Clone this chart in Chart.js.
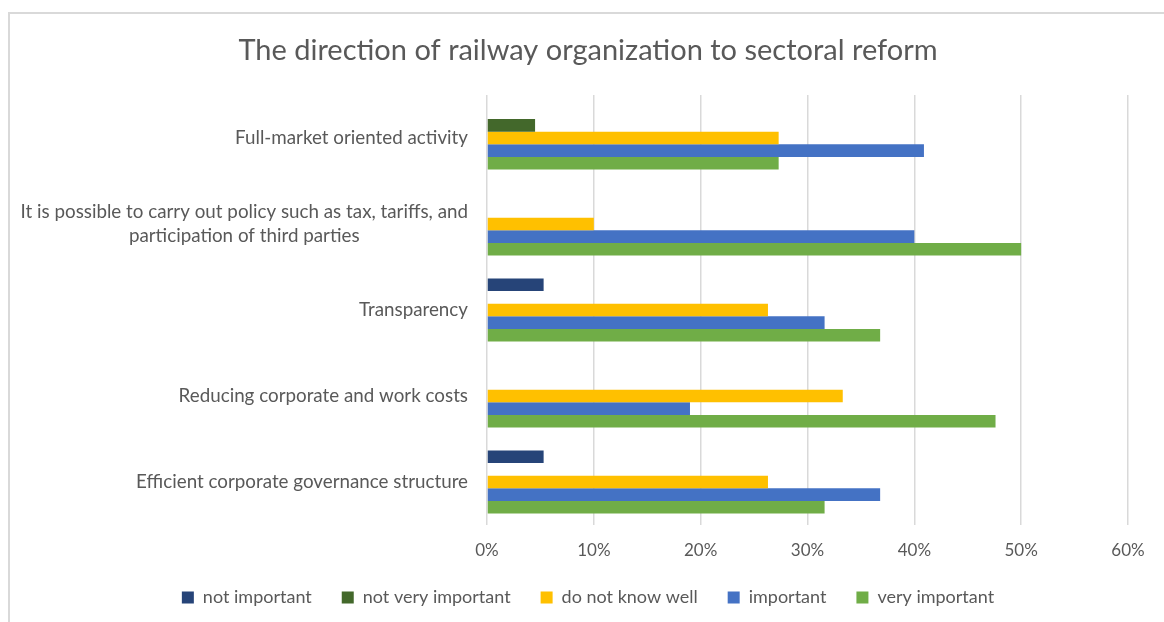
<!DOCTYPE html>
<html>
<head>
<meta charset="utf-8">
<script src="https://cdn.jsdelivr.net/npm/chart.js@4.4.1/dist/chart.umd.min.js"></script>
<style>
  html, body { margin: 0; padding: 0; background: #ffffff; }
  #wrap { position: relative; width: 1164px; height: 622px; overflow: hidden; }
  #frame { position: absolute; left: 8px; top: 12px; width: 1200px; height: 700px;
           border-left: 2px solid #d9d9d9; border-top: 2px solid #d9d9d9; pointer-events: none; }
  canvas { display: block; }
</style>
</head>
<body>
<div id="wrap">
  <canvas id="chart" width="1164" height="622"></canvas>
  <div id="frame"></div>
</div>
<script>
// Reform aspects (top to bottom) and share of answers per rating, in percent
const categories = [
  ['Full-market oriented activity'],
  ['It is possible to carry out policy such as tax, tariffs, and', 'participation of third parties'],
  ['Transparency'],
  ['Reducing corporate and work costs'],
  ['Efficient corporate governance structure']
];
const seriesNames = ['not important', 'not very important', 'do not know well', 'important', 'very important'];
const notImportant     = [0,    0,  5.3,  0,    5.3];
const notVeryImportant = [4.5,  0,  0,    0,    0];
const doNotKnowWell    = [27.3, 10, 26.3, 33.3, 26.3];
const important        = [40.9, 40, 31.6, 19.0, 36.8];
const veryImportant    = [27.3, 50, 36.8, 47.6, 31.6];
const xTicks = [0, 10, 20, 30, 40, 50, 60];

const colors = ['#264478', '#43682b', '#ffc000', '#4472c4', '#70ad47'];
const values = [notImportant, notVeryImportant, doNotKnowWell, important, veryImportant];

const FONT = 'Lato, "Open Sans", "Liberation Sans", sans-serif';
const TEXT = '#595959';

// Category labels: block right-aligned next to the plot, lines centred within the block
const categoryLabels = {
  id: 'categoryLabels',
  afterDraw(chart) {
    const ctx = chart.ctx;
    const y = chart.scales.y;
    const right = chart.chartArea.left - 19;
    const lineH = 24;
    ctx.save();
    ctx.font = '18.8px ' + FONT;
    ctx.fillStyle = TEXT;
    ctx.textAlign = 'center';
    ctx.textBaseline = 'middle';
    categories.forEach((lines, i) => {
      const cy = y.getPixelForTick(i);
      const w = Math.max(...lines.map(l => ctx.measureText(l).width));
      const cx = right - w / 2;
      const y0 = cy - (lines.length - 1) * lineH / 2;
      lines.forEach((l, j) => ctx.fillText(l, cx, y0 + j * lineH));
    });
    ctx.restore();
  }
};

new Chart(document.getElementById('chart'), {
  type: 'bar',
  data: {
    labels: categories.map(c => c.join(' ')),
    datasets: seriesNames.map((name, k) => ({
      label: name,
      data: values[k],
      backgroundColor: colors[k],
      borderWidth: 0,
      categoryPercentage: 0.735,
      barPercentage: 1.0
    }))
  },
  options: {
    indexAxis: 'y',
    responsive: false,
    animation: false,
    devicePixelRatio: 1,
    layout: { padding: { left: 48, right: 36, top: 0, bottom: 5.5 } },
    scales: {
      x: {
        min: xTicks[0],
        max: xTicks[xTicks.length - 1],
        afterBuildTicks(scale) { scale.ticks = xTicks.map(v => ({ value: v })); },
        afterFit(scale) { scale.height = 33.5; },
        grid: { color: '#d9d9d9', lineWidth: 1.5, drawTicks: false },
        border: { display: false },
        ticks: {
          padding: 15,
          color: TEXT,
          font: { family: FONT, size: 17 },
          callback: v => v + '%'
        }
      },
      y: {
        afterFit(scale) { scale.width = 439; },
        grid: { display: false },
        border: { display: false },
        ticks: { display: false }
      }
    },
    plugins: {
      title: {
        display: true,
        text: 'The direction of railway organization to sectoral reform',
        color: TEXT,
        font: { family: FONT, size: 29, weight: 'normal' },
        padding: { top: 33.6, bottom: 26.6 }
      },
      legend: {
        position: 'bottom',
        labels: {
          color: TEXT,
          font: { family: FONT, size: 18 },
          boxWidth: 12,
          boxHeight: 12,
          padding: 30
        }
      },
      tooltip: { enabled: false }
    }
  },
  plugins: [categoryLabels]
});
</script>
</body>
</html>
